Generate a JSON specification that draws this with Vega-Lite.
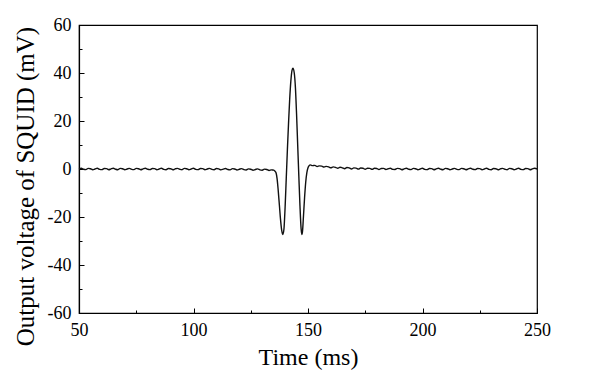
{
  "$schema": "https://vega.github.io/schema/vega-lite/v6.json",
  "autosize": "none",
  "padding": {"left": 79, "top": 25, "right": 63, "bottom": 63},
  "width": 458,
  "height": 288,
  "background": "white",
  "config": {
    "view": {"stroke": "black", "strokeWidth": 1.2},
    "axis": {
      "domainColor": "black",
      "domainWidth": 1.2,
      "tickColor": "black",
      "tickWidth": 1,
      "labelFont": "Liberation Serif",
      "labelFontSize": 18,
      "labelColor": "black",
      "titleFont": "Liberation Serif",
      "titleFontSize": 24,
      "titleFontWeight": "normal",
      "titleColor": "black",
      "grid": false
    }
  },
  "data": {
    "values": [
      {"t": 50, "v": 0.1}, {"t": 51, "v": 0.3}, {"t": 52, "v": -0.1}, {"t": 53, "v": -0.25}, {"t": 54, "v": 0.25},
      {"t": 55, "v": 0.1}, {"t": 56, "v": -0.3}, {"t": 57, "v": 0.0}, {"t": 58, "v": 0.3}, {"t": 59, "v": -0.15},
      {"t": 60, "v": -0.25}, {"t": 61, "v": 0.2}, {"t": 62, "v": 0.15}, {"t": 63, "v": -0.3}, {"t": 64, "v": 0.05},
      {"t": 65, "v": 0.3}, {"t": 66, "v": -0.1}, {"t": 67, "v": -0.3}, {"t": 68, "v": 0.25}, {"t": 69, "v": 0.1},
      {"t": 70, "v": -0.3}, {"t": 71, "v": 0.0}, {"t": 72, "v": 0.25}, {"t": 73, "v": -0.15}, {"t": 74, "v": -0.25},
      {"t": 75, "v": 0.25}, {"t": 76, "v": 0.1}, {"t": 77, "v": -0.3}, {"t": 78, "v": 0.05}, {"t": 79, "v": 0.3},
      {"t": 80, "v": -0.1}, {"t": 81, "v": -0.25}, {"t": 82, "v": 0.2}, {"t": 83, "v": 0.15}, {"t": 84, "v": -0.3},
      {"t": 85, "v": 0.0}, {"t": 86, "v": 0.3}, {"t": 87, "v": -0.15}, {"t": 88, "v": -0.3}, {"t": 89, "v": 0.2},
      {"t": 90, "v": 0.1}, {"t": 91, "v": -0.3}, {"t": 92, "v": 0.05}, {"t": 93, "v": 0.25}, {"t": 94, "v": -0.1},
      {"t": 95, "v": -0.3}, {"t": 96, "v": 0.25}, {"t": 97, "v": 0.1}, {"t": 98, "v": -0.3}, {"t": 99, "v": 0.0},
      {"t": 100, "v": 0.3}, {"t": 101, "v": -0.15}, {"t": 102, "v": -0.25}, {"t": 103, "v": 0.2}, {"t": 104, "v": 0.15},
      {"t": 105, "v": -0.3}, {"t": 106, "v": 0.0}, {"t": 107, "v": 0.25}, {"t": 108, "v": -0.15}, {"t": 109, "v": -0.3},
      {"t": 110, "v": 0.2}, {"t": 111, "v": 0.05}, {"t": 112, "v": -0.35}, {"t": 113, "v": -0.05}, {"t": 114, "v": 0.2},
      {"t": 115, "v": -0.2}, {"t": 116, "v": -0.35}, {"t": 117, "v": 0.15}, {"t": 118, "v": 0.0}, {"t": 119, "v": -0.4},
      {"t": 120, "v": -0.1}, {"t": 121, "v": 0.15}, {"t": 122, "v": -0.25}, {"t": 123, "v": -0.4}, {"t": 124, "v": 0.05},
      {"t": 125, "v": -0.1}, {"t": 126, "v": -0.5}, {"t": 127, "v": -0.2}, {"t": 128, "v": 0.05}, {"t": 129, "v": -0.35},
      {"t": 130, "v": -0.5}, {"t": 131, "v": -0.05}, {"t": 132, "v": -0.2}, {"t": 133, "v": -0.6}, {"t": 134, "v": -0.35},
      {"t": 134.5, "v": -0.4}, {"t": 135, "v": -0.5}, {"t": 135.5, "v": -0.8}, {"t": 136, "v": -1.5}, {"t": 136.5, "v": -4},
      {"t": 137, "v": -9}, {"t": 137.5, "v": -15}, {"t": 138, "v": -21}, {"t": 138.5, "v": -25.5}, {"t": 139, "v": -27.3},
      {"t": 139.5, "v": -25}, {"t": 140, "v": -16}, {"t": 140.5, "v": -4}, {"t": 141, "v": 8}, {"t": 141.5, "v": 19},
      {"t": 142, "v": 29}, {"t": 142.5, "v": 36.5}, {"t": 143, "v": 41}, {"t": 143.4, "v": 42}, {"t": 144, "v": 40},
      {"t": 144.5, "v": 34}, {"t": 145, "v": 23}, {"t": 145.5, "v": 10}, {"t": 146, "v": -3}, {"t": 146.5, "v": -15.5},
      {"t": 147, "v": -25}, {"t": 147.3, "v": -27.3}, {"t": 147.6, "v": -26}, {"t": 148, "v": -20}, {"t": 148.5, "v": -12},
      {"t": 149, "v": -5.5}, {"t": 149.5, "v": -1.5}, {"t": 150, "v": 0.5}, {"t": 150.5, "v": 1.4}, {"t": 151, "v": 1.7},
      {"t": 152, "v": 1.4}, {"t": 153, "v": 1.5}, {"t": 154, "v": 1.0}, {"t": 155, "v": 1.3}, {"t": 156, "v": 1.2},
      {"t": 157, "v": 0.8}, {"t": 158, "v": 1.1}, {"t": 159, "v": 0.9}, {"t": 160, "v": 0.5}, {"t": 161, "v": 0.9},
      {"t": 162, "v": 0.7}, {"t": 163, "v": 0.3}, {"t": 164, "v": 0.75}, {"t": 165, "v": 0.5}, {"t": 166, "v": 0.1},
      {"t": 167, "v": 0.6}, {"t": 168, "v": 0.45}, {"t": 169, "v": 0.0}, {"t": 170, "v": 0.45}, {"t": 171, "v": 0.35},
      {"t": 172, "v": -0.05}, {"t": 173, "v": 0.4}, {"t": 174, "v": 0.3}, {"t": 175, "v": -0.1}, {"t": 176, "v": 0.3},
      {"t": 177, "v": 0.25}, {"t": 178, "v": -0.15}, {"t": 179, "v": 0.3}, {"t": 180, "v": 0.2}, {"t": 181, "v": -0.2},
      {"t": 182, "v": 0.2}, {"t": 183, "v": 0.25}, {"t": 184, "v": -0.2}, {"t": 185, "v": 0.1}, {"t": 186, "v": 0.3},
      {"t": 187, "v": -0.15}, {"t": 188, "v": -0.2}, {"t": 189, "v": 0.25}, {"t": 190, "v": 0.15}, {"t": 191, "v": -0.3},
      {"t": 192, "v": 0.05}, {"t": 193, "v": 0.3}, {"t": 194, "v": -0.1}, {"t": 195, "v": -0.25}, {"t": 196, "v": 0.25},
      {"t": 197, "v": 0.1}, {"t": 198, "v": -0.3}, {"t": 199, "v": 0.0}, {"t": 200, "v": 0.3}, {"t": 201, "v": -0.15},
      {"t": 202, "v": -0.25}, {"t": 203, "v": 0.2}, {"t": 204, "v": 0.15}, {"t": 205, "v": -0.3}, {"t": 206, "v": 0.05},
      {"t": 207, "v": 0.3}, {"t": 208, "v": -0.1}, {"t": 209, "v": -0.3}, {"t": 210, "v": 0.25}, {"t": 211, "v": 0.1},
      {"t": 212, "v": -0.3}, {"t": 213, "v": 0.0}, {"t": 214, "v": 0.25}, {"t": 215, "v": -0.15}, {"t": 216, "v": -0.25},
      {"t": 217, "v": 0.25}, {"t": 218, "v": 0.1}, {"t": 219, "v": -0.3}, {"t": 220, "v": 0.05}, {"t": 221, "v": 0.3},
      {"t": 222, "v": -0.1}, {"t": 223, "v": -0.25}, {"t": 224, "v": 0.2}, {"t": 225, "v": 0.15}, {"t": 226, "v": -0.3},
      {"t": 227, "v": 0.0}, {"t": 228, "v": 0.3}, {"t": 229, "v": -0.15}, {"t": 230, "v": -0.3}, {"t": 231, "v": 0.2},
      {"t": 232, "v": 0.1}, {"t": 233, "v": -0.3}, {"t": 234, "v": 0.05}, {"t": 235, "v": 0.25}, {"t": 236, "v": -0.1},
      {"t": 237, "v": -0.3}, {"t": 238, "v": 0.25}, {"t": 239, "v": 0.1}, {"t": 240, "v": -0.3}, {"t": 241, "v": 0.0},
      {"t": 242, "v": 0.3}, {"t": 243, "v": -0.15}, {"t": 244, "v": -0.25}, {"t": 245, "v": 0.2}, {"t": 246, "v": 0.15},
      {"t": 247, "v": -0.3}, {"t": 248, "v": 0.05}, {"t": 249, "v": 0.3}, {"t": 250, "v": 0.0}
    ]
  },
  "mark": {"type": "line", "color": "#111111", "strokeWidth": 1.4, "interpolate": "monotone"},
  "encoding": {
    "x": {
      "field": "t",
      "type": "quantitative",
      "title": "Time (ms)",
      "scale": {"domain": [50, 250], "nice": false, "zero": false},
      "axis": {
        "values": [50, 75, 100, 125, 150, 175, 200, 225, 250],
        "labelExpr": "datum.value % 50 === 0 ? '' + datum.value : ''",
        "tickSize": {"condition": {"test": "datum.value % 50 === 0", "value": -5}, "value": -3},
        "labelPadding": 13,
        "titlePadding": 4,
        "labelFlush": false,
        "labelOverlap": false
      }
    },
    "y": {
      "field": "v",
      "type": "quantitative",
      "title": "Output voltage of SQUID (mV)",
      "scale": {"domain": [-60, 60], "nice": false, "zero": false},
      "axis": {
        "values": [-60, -50, -40, -30, -20, -10, 0, 10, 20, 30, 40, 50, 60],
        "labelExpr": "datum.value % 20 === 0 ? '' + datum.value : ''",
        "tickSize": {"condition": {"test": "datum.value % 20 === 0", "value": -5}, "value": -3},
        "labelPadding": 13,
        "titlePadding": 9,
        "titleFontSize": 25,
        "titleY": 161,
        "labelFlush": false,
        "labelOverlap": false
      }
    }
  }
}
